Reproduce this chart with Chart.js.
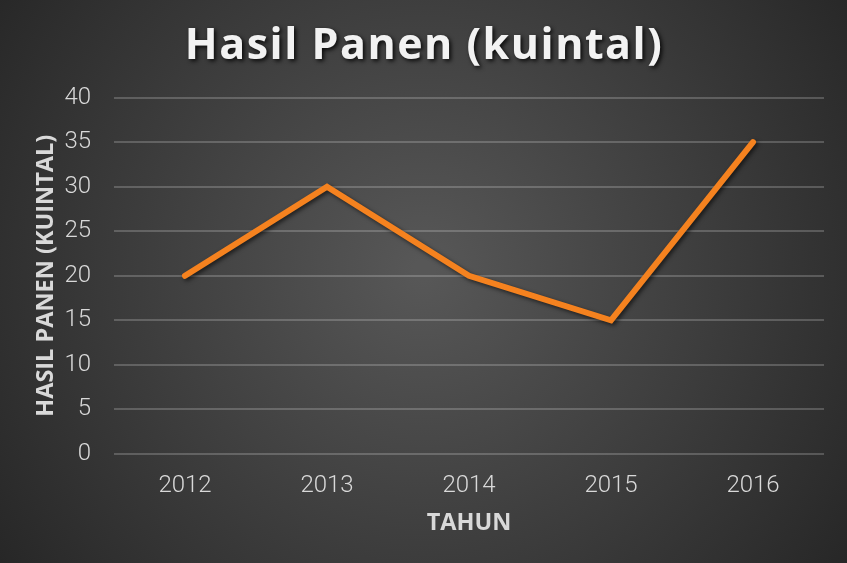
<!DOCTYPE html>
<html>
<head>
<meta charset="utf-8">
<script src="https://cdn.jsdelivr.net/npm/chart.js@4"></script>
<style>
  html, body { margin: 0; padding: 0; background: #2b2b2b; }
  canvas { display: block; }
</style>
</head>
<body>
<canvas id="grafica" width="847" height="563"></canvas>
<script>
// datos de la gráfica
const tahun = ['2012', '2013', '2014', '2015', '2016']
const hasilPanen = [20, 30, 20, 15, 35]
const ticksY = [0, 5, 10, 15, 20, 25, 30, 35, 40]

const $grafica = document.querySelector('#grafica')

// fondo con degradado radial
const fondo = {
  id: 'fondo',
  beforeDraw(chart) {
    const { ctx, width, height } = chart
    const g = ctx.createRadialGradient(width * 0.5, height * 0.48, 10, width * 0.5, height * 0.48, width * 0.62)
    g.addColorStop(0, '#575757')
    g.addColorStop(1, '#262626')
    ctx.save()
    ctx.fillStyle = g
    ctx.fillRect(0, 0, width, height)
    ctx.restore()
  }
}

// sombra para la línea
const sombraLinea = {
  id: 'sombraLinea',
  beforeDatasetsDraw(chart) {
    const ctx = chart.ctx
    ctx.save()
    ctx.shadowColor = 'rgba(0, 0, 0, 0.6)'
    ctx.shadowBlur = 4
    ctx.shadowOffsetX = 2
    ctx.shadowOffsetY = 2
  },
  afterDatasetsDraw(chart) {
    chart.ctx.restore()
  }
}

// sombra y espaciado para el título (centrado en todo el canvas)
const sombraTitulo = {
  id: 'sombraTitulo',
  afterInit(chart) {
    const tb = chart.titleBlock
    if (!tb) return
    const original = tb.draw.bind(tb)
    tb.draw = function (area) {
      const ctx = chart.ctx
      ctx.save()
      ctx.translate(12, 0)
      ctx.letterSpacing = '1.5px'
      ctx.shadowColor = 'rgba(0, 0, 0, 0.85)'
      ctx.shadowBlur = 4
      ctx.shadowOffsetX = 2
      ctx.shadowOffsetY = 2
      original(area)
      ctx.restore()
    }
  }
}

new Chart($grafica, {
  type: 'line',
  data: {
    labels: tahun,
    datasets: [{
      label: 'Hasil Panen',
      data: hasilPanen,
      borderColor: '#f5821f',
      borderWidth: 6,
      borderCapStyle: 'round',
      borderJoinStyle: 'miter',
      pointRadius: 0,
      pointHoverRadius: 0,
      tension: 0
    }]
  },
  options: {
    responsive: false,
    animation: false,
    layout: { padding: { left: 0, right: 23, top: 0, bottom: 0 } },
    plugins: {
      legend: { display: false },
      tooltip: { enabled: false },
      title: {
        display: true,
        text: 'Hasil Panen (kuintal)',
        color: '#f2f2f2',
        font: { family: 'Open Sans', size: 43, weight: 'bold', lineHeight: 1.2 },
        padding: { top: 21, bottom: 25 }
      }
    },
    scales: {
      x: {
        offset: true,
        grid: { display: false, drawTicks: false },
        border: { display: false },
        ticks: {
          color: '#d9d9d9',
          padding: 18,
          font: { family: 'Roboto', size: 24, weight: 300 }
        },
        title: {
          display: true,
          text: 'TAHUN',
          color: '#d9d9d9',
          font: { family: 'Open Sans', size: 23.5, weight: 'bold', lineHeight: 1.2 },
          padding: { top: 0, bottom: 26 }
        },
        afterFit(scale) { scale.height = 109 }
      },
      y: {
        min: 0,
        max: 40,
        afterBuildTicks(scale) { scale.ticks = ticksY.map(v => ({ value: v })) },
        grid: {
          color: 'rgba(255, 255, 255, 0.2)',
          lineWidth: 2,
          drawTicks: false
        },
        border: { display: false },
        ticks: {
          color: '#d9d9d9',
          padding: 23,
          font: { family: 'Roboto', size: 24, weight: 300 }
        },
        title: {
          display: true,
          text: 'HASIL PANEN (KUINTAL)',
          color: '#d9d9d9',
          font: { family: 'Open Sans', size: 23.5, weight: 'bold', lineHeight: 1.2 },
          padding: { top: 32, bottom: 0 }
        },
        afterFit(scale) { scale.width = 114 }
      }
    }
  },
  plugins: [fondo, sombraLinea, sombraTitulo]
})
</script>
</body>
</html>
